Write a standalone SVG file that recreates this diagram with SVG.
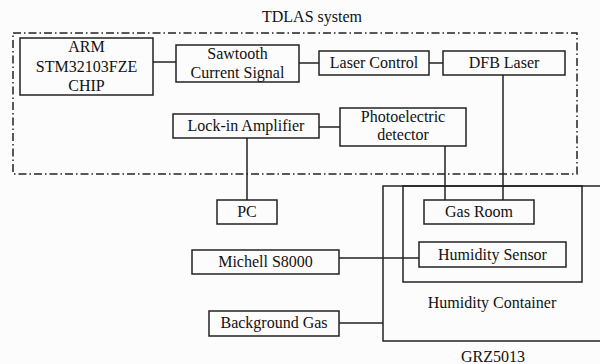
<svg xmlns="http://www.w3.org/2000/svg" width="600" height="364" viewBox="0 0 600 364">
<style>
.b{fill:none;stroke:#222;stroke-width:1.5}
.l{fill:none;stroke:#222;stroke-width:1.5}
text{font-family:'Liberation Serif','DejaVu Serif',serif;font-size:16px;fill:#111;text-anchor:middle}
.dd{fill:none;stroke:#222;stroke-width:1.5;stroke-dasharray:8 3 1.5 3}
</style>
<rect width="600" height="364" fill="#fcfcfc"/>
<g id="tdlas-system">
<rect class="dd" x="13" y="33" width="564" height="141"/>
<text x="312" y="22">TDLAS system</text>
</g>
<g id="grz5013">
<rect class="b" x="383" y="186" width="230" height="155"/>
<text x="493" y="362">GRZ5013</text>
</g>
<g id="humidity-container">
<rect class="b" x="403" y="186" width="179" height="96"/>
<text x="492" y="308">Humidity Container</text>
</g>
<g id="connectors">
<path class="l" d="M153 62H176"/>
<path class="l" d="M299 63H319"/>
<path class="l" d="M429 63H443"/>
<path class="l" d="M503 75V200"/>
<path class="l" d="M319 127H340"/>
<path class="l" d="M445 146V200"/>
<path class="l" d="M247 138V200"/>
<path class="l" d="M339 258H419"/>
<path class="l" d="M339 323H383"/>
</g>
<g id="arm">
<rect class="b" x="20" y="38" width="133" height="57"/>
<text x="86.5" y="52">ARM</text>
<text x="86.5" y="71.5">STM32103FZE</text>
<text x="86.5" y="91">CHIP</text>
</g>
<g id="sawtooth">
<rect class="b" x="176" y="45" width="123" height="37"/>
<text x="237.5" y="59">Sawtooth</text>
<text x="237.5" y="78">Current Signal</text>
</g>
<g id="laser-control">
<rect class="b" x="319" y="51" width="110" height="24"/>
<text x="374" y="68">Laser Control</text>
</g>
<g id="dfb-laser">
<rect class="b" x="443" y="51" width="122" height="24"/>
<text x="504" y="68">DFB Laser</text>
</g>
<g id="lock-in">
<rect class="b" x="173" y="114" width="146" height="24"/>
<text x="246" y="131">Lock-in Amplifier</text>
</g>
<g id="photo">
<rect class="b" x="340" y="108" width="126" height="38"/>
<text x="403" y="122">Photoelectric</text>
<text x="403" y="140">detector</text>
</g>
<g id="pc">
<rect class="b" x="217" y="200" width="60" height="24"/>
<text x="247" y="217">PC</text>
</g>
<g id="gas-room">
<rect class="b" x="424" y="200" width="110" height="24"/>
<text x="479" y="217">Gas Room</text>
</g>
<g id="humidity-sensor">
<rect class="b" x="419" y="242" width="147" height="25"/>
<text x="492.5" y="260">Humidity Sensor</text>
</g>
<g id="michell">
<rect class="b" x="192" y="250" width="147" height="24"/>
<text x="265.5" y="267">Michell S8000</text>
</g>
<g id="background-gas">
<rect class="b" x="209" y="311" width="130" height="25"/>
<text x="274" y="328">Background Gas</text>
</g>
</svg>
